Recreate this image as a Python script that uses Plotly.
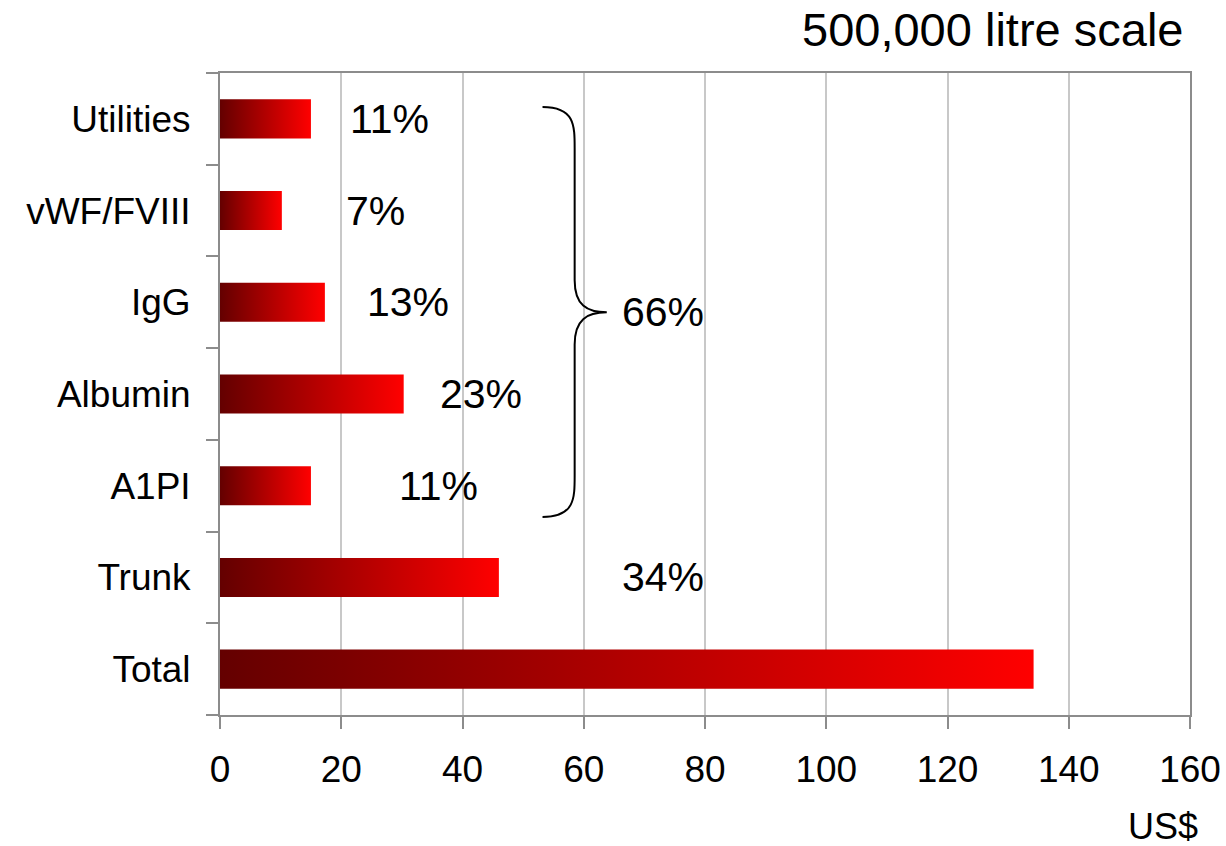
import plotly.graph_objects as go

# ---- data ----
categories = ["Total", "Trunk", "A1PI", "Albumin", "IgG", "vWF/FVIII", "Utilities"]
values = [134.2, 46.0, 15.0, 30.3, 17.3, 10.2, 15.0]
pct_labels = ["", "34%", "11%", "23%", "13%", "7%", "11%"]
group_label = "66%"
x_ticks = [0, 20, 40, 60, 80, 100, 120, 140, 160]

# ---- layout helpers (not data) ----
label_x_pos = [None, 73, 36, 43, 31, 25.6, 28]
half_h = 0.213
FONT = "Liberation Sans, Arial, sans-serif"
AXIS_GRAY = "#8c8c8c"

fig = go.Figure()
for i, (cat, v) in enumerate(zip(categories, values)):
    fig.add_trace(go.Scatter(
        x=[0, v, v, 0, 0],
        y=[i - half_h, i - half_h, i + half_h, i + half_h, i - half_h],
        mode="lines",
        line=dict(width=0),
        fill="toself",
        fillcolor="#ff0000",
        fillgradient=dict(type="horizontal",
                          colorscale=[[0, "#640000"], [1, "#ff0000"]]),
        name=cat,
        hoverinfo="skip",
        showlegend=False,
    ))

annotations = []
for i, lab in enumerate(pct_labels):
    if lab:
        annotations.append(dict(x=label_x_pos[i], y=i, xref="x", yref="y", text=lab,
                                showarrow=False, xanchor="center", yanchor="middle",
                                font=dict(size=41, color="black", family=FONT)))
annotations.append(dict(x=73, y=3.89, xref="x", yref="y", text=group_label,
                        showarrow=False, xanchor="center", yanchor="middle",
                        font=dict(size=41, color="black", family=FONT)))
annotations.append(dict(x=0.995, y=1.067, xref="paper", yref="paper",
                        text="500,000 litre scale", showarrow=False,
                        xanchor="right", yanchor="middle",
                        font=dict(size=47, color="black", family=FONT)))
annotations.append(dict(x=0.972, y=-0.173, xref="paper", yref="paper",
                        text="US$", showarrow=False,
                        xanchor="center", yanchor="middle",
                        font=dict(size=36, color="black", family=FONT)))

# curly brace
xb0, xb1, xb2 = 53.2, 58.5, 63.8
yt, yb, ym = 6.13, 1.66, 3.89
brace = (f"M {xb0},{yt} C {xb1},{yt} {xb1},{yt-0.2} {xb1},{yt-0.45} "
         f"L {xb1},{ym+0.35} C {xb1},{ym+0.08} {xb1+2},{ym} {xb2},{ym} "
         f"C {xb1+2},{ym} {xb1},{ym-0.08} {xb1},{ym-0.35} "
         f"L {xb1},{yb+0.45} C {xb1},{yb+0.2} {xb1},{yb} {xb0},{yb}")

fig.update_layout(
    width=1226, height=846,
    margin=dict(l=220, r=36, t=73, b=131),
    paper_bgcolor="white", plot_bgcolor="white",
    font=dict(family=FONT, color="black"),
    annotations=annotations,
    shapes=[dict(type="path", path=brace, xref="x", yref="y",
                 line=dict(color="black", width=2))],
    xaxis=dict(range=[0, 160], tickvals=x_ticks, ticks="outside", ticklen=12,
               tickcolor=AXIS_GRAY, tickwidth=2, showline=True, linecolor=AXIS_GRAY,
               linewidth=2, mirror=True, showgrid=True, gridcolor="#c8c8c8",
               gridwidth=1.5, zeroline=False, automargin=False,
               tickfont=dict(size=37, family=FONT, color="black"),
               ticklabelstandoff=9),
    yaxis=dict(range=[-0.5, 6.5], tickvals=list(range(len(categories))),
               ticktext=categories, ticks="", showline=True, linecolor=AXIS_GRAY,
               linewidth=2, mirror=True, showgrid=False, zeroline=False,
               automargin=False,
               tickfont=dict(size=37, family=FONT, color="black"),
               ticklabelstandoff=20,
               minor=dict(tickvals=[k - 0.5 for k in range(len(categories) + 1)],
                          ticks="outside", ticklen=12, tickcolor=AXIS_GRAY,
                          tickwidth=2, showgrid=False)),
)

fig.write_html("out.html")
